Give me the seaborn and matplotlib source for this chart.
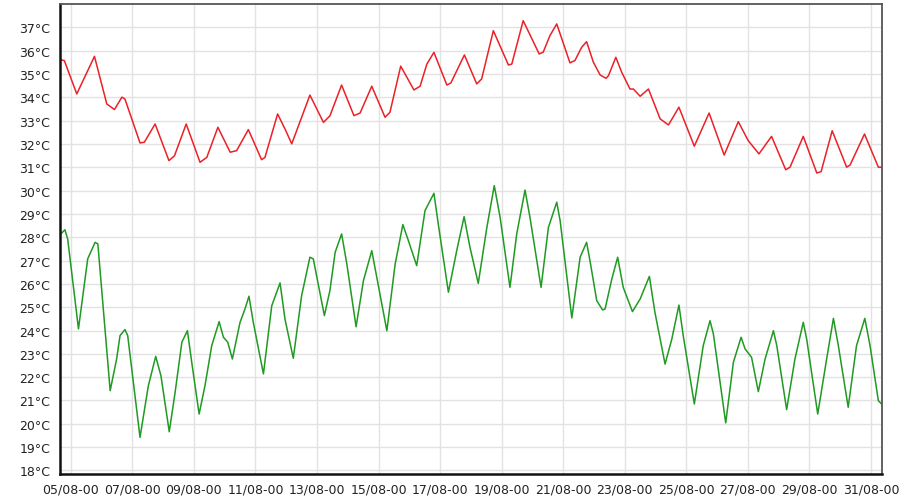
import numpy as np
import pandas as pd
import matplotlib
matplotlib.use("Agg")
import matplotlib.pyplot as plt
import matplotlib.dates as mdates
import seaborn as sns

# ---- data (days since 05/08 00:00, temperature in °C) ----
red_days = [-0.35, -0.21, 0.195, 0.77, 1.17, 1.42, 1.66, 1.76, 2.25, 2.39,
            2.74, 3.19, 3.37, 3.75, 4.2, 4.42, 4.78, 5.18, 5.39, 5.77,
            6.2, 6.31, 6.72, 6.96, 7.18, 7.77, 8.21, 8.42, 8.8, 9.2,
            9.4, 9.78, 10.21, 10.37, 10.72, 11.15, 11.35, 11.57, 11.8, 12.22,
            12.35, 12.79, 13.19, 13.35, 13.73, 14.22, 14.33, 14.7, 15.22, 15.35,
            15.57, 15.79, 16.22, 16.38, 16.6, 16.76, 16.98, 17.2, 17.39, 17.47,
            17.71, 17.9, 18.17, 18.28, 18.5, 18.77, 19.15, 19.42, 19.76, 20.26,
            20.74, 21.23, 21.69, 22.01, 22.36, 22.77, 23.23, 23.37, 23.8, 24.24,
            24.38, 24.74, 25.21, 25.32, 25.79, 26.24, 26.35]
red_temp = [35.61, 35.57, 34.14, 35.75, 33.71, 33.47, 34.0, 33.92, 32.04, 32.07,
            32.85, 31.28, 31.49, 32.85, 31.21, 31.42, 32.71, 31.64, 31.71, 32.61,
            31.32, 31.42, 33.28, 32.64, 32.0, 34.09, 32.92, 33.2, 34.52, 33.21,
            33.32, 34.47, 33.14, 33.35, 35.33, 34.31, 34.47, 35.42, 35.92, 34.52,
            34.61, 35.81, 34.57, 34.78, 36.85, 35.38, 35.42, 37.28, 35.85, 35.93,
            36.64, 37.14, 35.47, 35.57, 36.14, 36.38, 35.5, 34.95, 34.81, 34.92,
            35.71, 35.07, 34.35, 34.35, 34.04, 34.35, 33.07, 32.81, 33.57, 31.9,
            33.32, 31.52, 32.95, 32.14, 31.57, 32.32, 30.89, 31.0, 32.32, 30.75,
            30.81, 32.56, 31.0, 31.09, 32.42, 31.0, 31.0]

green_days = [-0.32, -0.19, -0.10, 0.25, 0.55, 0.79, 0.88, 1.28, 1.49, 1.60,
              1.76, 1.85, 2.25, 2.52, 2.76, 2.93, 3.20, 3.39, 3.61, 3.79,
              3.93, 4.17, 4.36, 4.58, 4.82, 4.96, 5.10, 5.25, 5.50, 5.66,
              5.79, 5.93, 6.26, 6.53, 6.80, 6.96, 7.23, 7.50, 7.77, 7.88,
              8.24, 8.42, 8.59, 8.80, 8.97, 9.27, 9.51, 9.78, 10.27, 10.54,
              10.79, 10.97, 11.24, 11.51, 11.80, 11.94, 12.27, 12.54, 12.78, 12.97,
              13.24, 13.52, 13.76, 13.95, 14.27, 14.49, 14.76, 14.92, 15.28, 15.52,
              15.79, 15.90, 16.28, 16.55, 16.76, 16.87, 17.09, 17.28, 17.36, 17.58,
              17.77, 17.95, 18.25, 18.50, 18.80, 18.98, 19.31, 19.53, 19.76, 19.90,
              20.26, 20.55, 20.77, 20.88, 21.28, 21.53, 21.78, 21.91, 22.12, 22.34,
              22.56, 22.83, 22.94, 23.26, 23.53, 23.80, 23.91, 24.27, 24.56, 24.78,
              24.94, 25.26, 25.53, 25.80, 25.97, 26.24, 26.35]
green_temp = [28.14, 28.32, 27.92, 24.07, 27.07, 27.78, 27.71, 21.42, 22.78, 23.78,
              24.04, 23.78, 19.42, 21.63, 22.89, 22.06, 19.66, 21.35, 23.5, 23.99,
              22.64, 20.42, 21.63, 23.35, 24.38, 23.71, 23.5, 22.78, 24.35, 24.92,
              25.47, 24.35, 22.14, 25.06, 26.04, 24.49, 22.81, 25.49, 27.14, 27.07,
              24.64, 25.71, 27.35, 28.14, 26.85, 24.16, 26.14, 27.42, 23.99, 26.85,
              28.54, 27.85, 26.78, 29.14, 29.88, 28.57, 25.64, 27.42, 28.88, 27.57,
              26.02, 28.42, 30.21, 28.85, 25.85, 28.14, 30.02, 28.85, 25.85, 28.42,
              29.5, 28.71, 24.54, 27.14, 27.78, 26.99, 25.28, 24.88, 24.92, 26.21,
              27.14, 25.85, 24.81, 25.35, 26.32, 24.78, 22.56, 23.64, 25.09, 23.78,
              20.85, 23.35, 24.42, 23.85, 20.04, 22.64, 23.71, 23.21, 22.85, 21.38,
              22.78, 23.99, 23.35, 20.61, 22.78, 24.35, 23.64, 20.42, 22.78, 24.52,
              23.35, 20.71, 23.35, 24.52, 23.35, 20.99, 20.85]

y_ticks = list(range(18, 38))
start_date = "2000-08-05"
end_date = "2000-08-31"

# ---- build table ----
base = pd.Timestamp(start_date)
df = pd.concat([
    pd.DataFrame({"time": base + pd.to_timedelta(red_days, unit="D"),
                  "temp": red_temp, "series": "max"}),
    pd.DataFrame({"time": base + pd.to_timedelta(green_days, unit="D"),
                  "temp": green_temp, "series": "min"}),
], ignore_index=True)

sns.set_theme(style="white")
plt.rcParams["font.family"] = ["DejaVu Sans"]

fig = plt.figure(figsize=(9.05, 5.02), dpi=100, facecolor="white")
ax = fig.add_axes([0.0663, 0.0538, 0.9080, 0.9356])

sns.lineplot(data=df, x="time", y="temp", hue="series",
             palette={"max": "#ec2027", "min": "#1f9a22"},
             estimator=None, linewidth=1.1, legend=False, ax=ax)

ax.set_xlim(pd.Timestamp(start_date) - pd.Timedelta(hours=8.4),
            pd.Timestamp(end_date) + pd.Timedelta(hours=8.4))
ax.set_ylim(17.85, 37.98)

ax.set_yticks(y_ticks)
ax.set_yticklabels([f"{v}°C" for v in y_ticks])
ax.xaxis.set_major_locator(mdates.DayLocator(interval=2))
ax.xaxis.set_major_formatter(mdates.DateFormatter("%d/%m-%H"))
ax.xaxis.set_minor_locator(mdates.HourLocator(byhour=[0, 8, 16]))

ax.grid(True, which="major", color="#e2e2e2", linewidth=1.0)
ax.set_axisbelow(True)
ax.set_xlabel("")
ax.set_ylabel("")

ax.tick_params(axis="both", which="major", labelsize=9, colors="#222222",
               length=4, width=1, direction="out", pad=2)
ax.tick_params(axis="x", which="minor", length=2.5, width=0.8, color="#222222")
ax.tick_params(axis="y", which="major", pad=3)
for lbl in ax.get_xticklabels() + ax.get_yticklabels():
    lbl.set_color("#222222")

for side in ("left", "bottom"):
    ax.spines[side].set_color("#111111")
    ax.spines[side].set_linewidth(1.8)
for side in ("top", "right"):
    ax.spines[side].set_color("#555555")
    ax.spines[side].set_linewidth(1.3)

fig.savefig("out.png", dpi=100, facecolor="white")
